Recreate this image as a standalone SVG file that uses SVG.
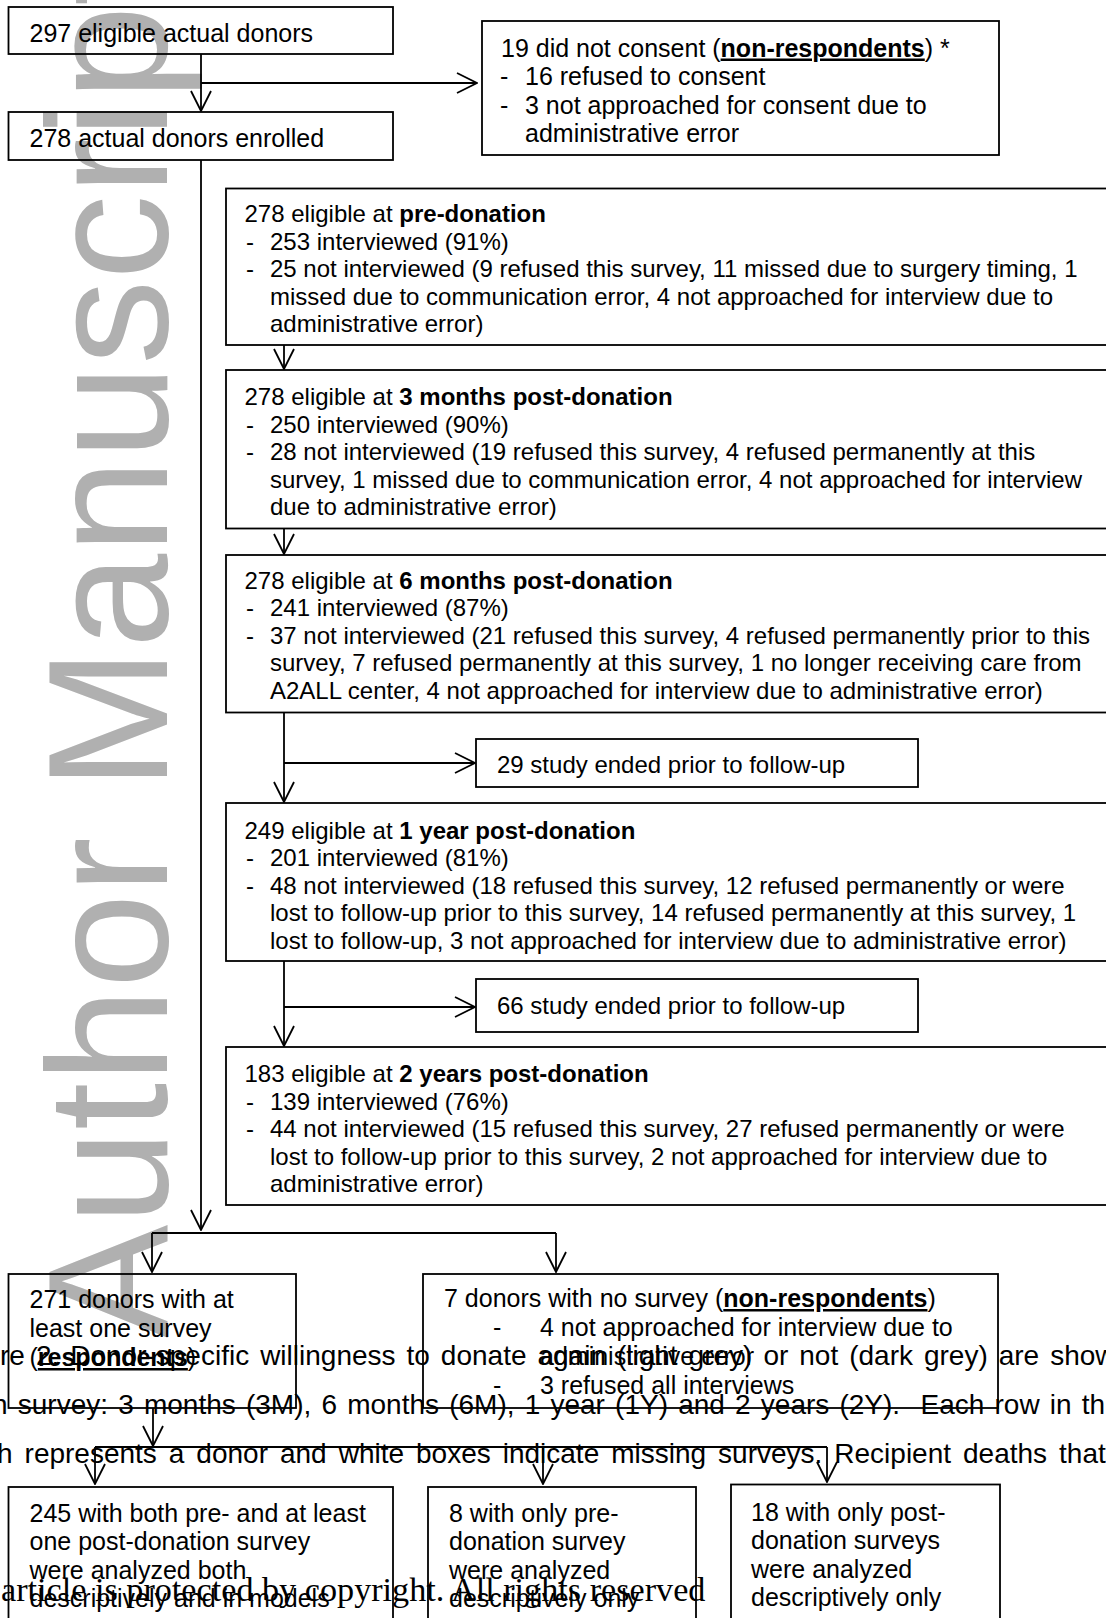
<svg xmlns="http://www.w3.org/2000/svg" width="1106" height="1618" viewBox="0 0 1106 1618">
<style>
.wm{font-family:"Liberation Sans",Arial,sans-serif;font-size:170px;fill:#b0b0b0}
.box{fill:none;stroke:#000;stroke-width:1.8}
.c{fill:none;stroke:#000;stroke-width:1.8}
.t{font-family:"Liberation Sans",Arial,sans-serif;font-size:25px;fill:#000}
.s{font-family:"Liberation Sans",Arial,sans-serif;font-size:24px;fill:#000}
.b{font-weight:bold}
.u{font-weight:bold;text-decoration:underline}
.ov{font-family:"Liberation Sans",Arial,sans-serif;font-size:28px;fill:#000;white-space:pre}
.cp{font-family:"Liberation Serif","Times New Roman",serif;font-size:34.2px;fill:#000}
</style>
<defs>
<marker id="arr" viewBox="0 0 22 22" refX="21" refY="11" markerWidth="22" markerHeight="22" orient="auto" markerUnits="userSpaceOnUse">
<path d="M1,1 L21,11 L1,21" fill="none" stroke="#000" stroke-width="1.8"/>
</marker>
</defs>
<rect x="0" y="0" width="1106" height="1618" fill="#fff"/>
<g id="watermark">
<text class="wm" transform="translate(167,1338) rotate(-90)">Author Manuscript</text>
</g>
<g id="connectors">
<path class="c" d="M201,54 L201,111" marker-end="url(#arr)"/>
<path class="c" d="M201,83 L477,83" marker-end="url(#arr)"/>
<path class="c" d="M201,160 L201,1230" marker-end="url(#arr)"/>
<path class="c" d="M284,345 L284,369" marker-end="url(#arr)"/>
<path class="c" d="M284,528.5 L284,554" marker-end="url(#arr)"/>
<path class="c" d="M284,712.5 L284,802" marker-end="url(#arr)"/>
<path class="c" d="M284,763 L475,763" marker-end="url(#arr)"/>
<path class="c" d="M284,961 L284,1046" marker-end="url(#arr)"/>
<path class="c" d="M284,1007 L475,1007" marker-end="url(#arr)"/>
<path class="c" d="M152,1233 L556,1233"/>
<path class="c" d="M152,1233 L152,1272" marker-end="url(#arr)"/>
<path class="c" d="M556,1233 L556,1272" marker-end="url(#arr)"/>
<path class="c" d="M153,1408 L153,1446" marker-end="url(#arr)"/>
<path class="c" d="M95,1447 L827,1447"/>
<path class="c" d="M95,1447 L95,1484" marker-end="url(#arr)"/>
<path class="c" d="M543,1447 L543,1484" marker-end="url(#arr)"/>
<path class="c" d="M827,1447 L827,1482" marker-end="url(#arr)"/>
</g>
<g id="n-eligible">
<rect class="box" x="8.5" y="7" width="384.5" height="47"/>
<text class="t" x="29.5" y="42">297 eligible actual donors</text>
</g>
<g id="n-nonconsent">
<rect class="box" x="482" y="21" width="517" height="134"/>
<text class="t" x="501" y="56.5">19 did not consent (<tspan class="u">non-respondents</tspan>) *</text>
<text class="t" x="500" y="85">-</text><text class="t" x="525" y="85">16 refused to consent</text>
<text class="t" x="500" y="113.5">-</text><text class="t" x="525" y="113.5">3 not approached for consent due to</text>
<text class="t" x="525" y="142">administrative error</text>
</g>
<g id="n-enrolled">
<rect class="box" x="8.5" y="112" width="384.5" height="48"/>
<text class="t" x="29.5" y="146.5">278 actual donors enrolled</text>
</g>
<g id="n-pre">
<rect class="box" x="226" y="188.5" width="890" height="156.5"/>
<text class="s" x="244.5" y="222">278 eligible at <tspan class="b">pre-donation</tspan></text>
<text class="s" x="246" y="249.6">-</text><text class="s" x="270" y="249.6">253 interviewed (91%)</text>
<text class="s" x="246" y="277.2">-</text><text class="s" x="270" y="277.2">25 not interviewed (9 refused this survey, 11 missed due to surgery timing, 1</text>
<text class="s" x="270" y="304.8">missed due to communication error, 4 not approached for interview due to</text>
<text class="s" x="270" y="332.4">administrative error)</text>
</g>
<g id="n-3m">
<rect class="box" x="226" y="370" width="890" height="158.5"/>
<text class="s" x="244.5" y="405">278 eligible at <tspan class="b">3 months post-donation</tspan></text>
<text class="s" x="246" y="432.6">-</text><text class="s" x="270" y="432.6">250 interviewed (90%)</text>
<text class="s" x="246" y="460.2">-</text><text class="s" x="270" y="460.2">28 not interviewed (19 refused this survey, 4 refused permanently at this</text>
<text class="s" x="270" y="487.8">survey, 1 missed due to communication error, 4 not approached for interview</text>
<text class="s" x="270" y="515.4">due to administrative error)</text>
</g>
<g id="n-6m">
<rect class="box" x="226" y="555" width="890" height="157.5"/>
<text class="s" x="244.5" y="588.5">278 eligible at <tspan class="b">6 months post-donation</tspan></text>
<text class="s" x="246" y="616.1">-</text><text class="s" x="270" y="616.1">241 interviewed (87%)</text>
<text class="s" x="246" y="643.7">-</text><text class="s" x="270" y="643.7">37 not interviewed (21 refused this survey, 4 refused permanently prior to this</text>
<text class="s" x="270" y="671.3">survey, 7 refused permanently at this survey, 1 no longer receiving care from</text>
<text class="s" x="270" y="698.9">A2ALL center, 4 not approached for interview due to administrative error)</text>
</g>
<g id="n-ended29">
<rect class="box" x="476" y="739" width="442" height="48"/>
<text class="s" x="497" y="772.5">29 study ended prior to follow-up</text>
</g>
<g id="n-1y">
<rect class="box" x="226" y="803" width="890" height="158"/>
<text class="s" x="244.5" y="838.5">249 eligible at <tspan class="b">1 year post-donation</tspan></text>
<text class="s" x="246" y="866.1">-</text><text class="s" x="270" y="866.1">201 interviewed (81%)</text>
<text class="s" x="246" y="893.7">-</text><text class="s" x="270" y="893.7">48 not interviewed (18 refused this survey, 12 refused permanently or were</text>
<text class="s" x="270" y="921.3">lost to follow-up prior to this survey, 14 refused permanently at this survey, 1</text>
<text class="s" x="270" y="948.9">lost to follow-up, 3 not approached for interview due to administrative error)</text>
</g>
<g id="n-ended66">
<rect class="box" x="476" y="979" width="442" height="53"/>
<text class="s" x="497" y="1013.5">66 study ended prior to follow-up</text>
</g>
<g id="n-2y">
<rect class="box" x="226" y="1047" width="890" height="158"/>
<text class="s" x="244.5" y="1082">183 eligible at <tspan class="b">2 years post-donation</tspan></text>
<text class="s" x="246" y="1109.6">-</text><text class="s" x="270" y="1109.6">139 interviewed (76%)</text>
<text class="s" x="246" y="1137.2">-</text><text class="s" x="270" y="1137.2">44 not interviewed (15 refused this survey, 27 refused permanently or were</text>
<text class="s" x="270" y="1164.8">lost to follow-up prior to this survey, 2 not approached for interview due to</text>
<text class="s" x="270" y="1192.4">administrative error)</text>
</g>
<g id="n-respondents">
<rect class="box" x="8.5" y="1274" width="287.5" height="134"/>
<text class="t" x="29.5" y="1308">271 donors with at</text>
<text class="t" x="29.5" y="1337">least one survey</text>
<text class="t" x="29.5" y="1366">(<tspan class="u">respondents</tspan>)</text>
</g>
<g id="n-nosurvey">
<rect class="box" x="423" y="1274" width="575" height="134"/>
<text class="t" x="444" y="1307">7 donors with no survey (<tspan class="u">non-respondents</tspan>)</text>
<text class="t" x="493" y="1336">-</text><text class="t" x="540" y="1336">4 not approached for interview due to</text>
<text class="t" x="540" y="1365">administrative error</text>
<text class="t" x="493" y="1394">-</text><text class="t" x="540" y="1394">3 refused all interviews</text>
</g>
<g id="n-both">
<rect class="box" x="8.5" y="1487" width="384.5" height="140"/>
<text class="t" x="29.5" y="1521.5">245 with both pre- and at least</text>
<text class="t" x="29.5" y="1550">one post-donation survey</text>
<text class="t" x="29.5" y="1578.5">were analyzed both</text>
<text class="t" x="29.5" y="1607">descriptively and in models</text>
</g>
<g id="n-preonly">
<rect class="box" x="428" y="1487" width="268" height="140"/>
<text class="t" x="449" y="1521.5">8 with only pre-</text>
<text class="t" x="449" y="1550">donation survey</text>
<text class="t" x="449" y="1578.5">were analyzed</text>
<text class="t" x="449" y="1607">descriptively only</text>
</g>
<g id="n-postonly">
<rect class="box" x="731" y="1484.5" width="269" height="142"/>
<text class="t" x="751" y="1520.5">18 with only post-</text>
<text class="t" x="751" y="1549">donation surveys</text>
<text class="t" x="751" y="1577.5">were analyzed</text>
<text class="t" x="751" y="1606">descriptively only</text>
</g>
<g id="page-text">
<text class="ov" x="0" y="1365" word-spacing="3.2">re 2. Donor-specific willingness to donate again (light grey) or not (dark grey) are show</text>
<text class="ov" x="-8" y="1414" word-spacing="2.4">n survey: 3 months (3M), 6 months (6M), 1 year (1Y) and 2 years (2Y).  Each row in th</text>
<text class="ov" x="-3" y="1463" word-spacing="4.2">h represents a donor and white boxes indicate missing surveys. Recipient deaths that</text>
<text class="cp" x="1" y="1601">article is protected by copyright. All rights reserved</text>
</g>
</svg>
